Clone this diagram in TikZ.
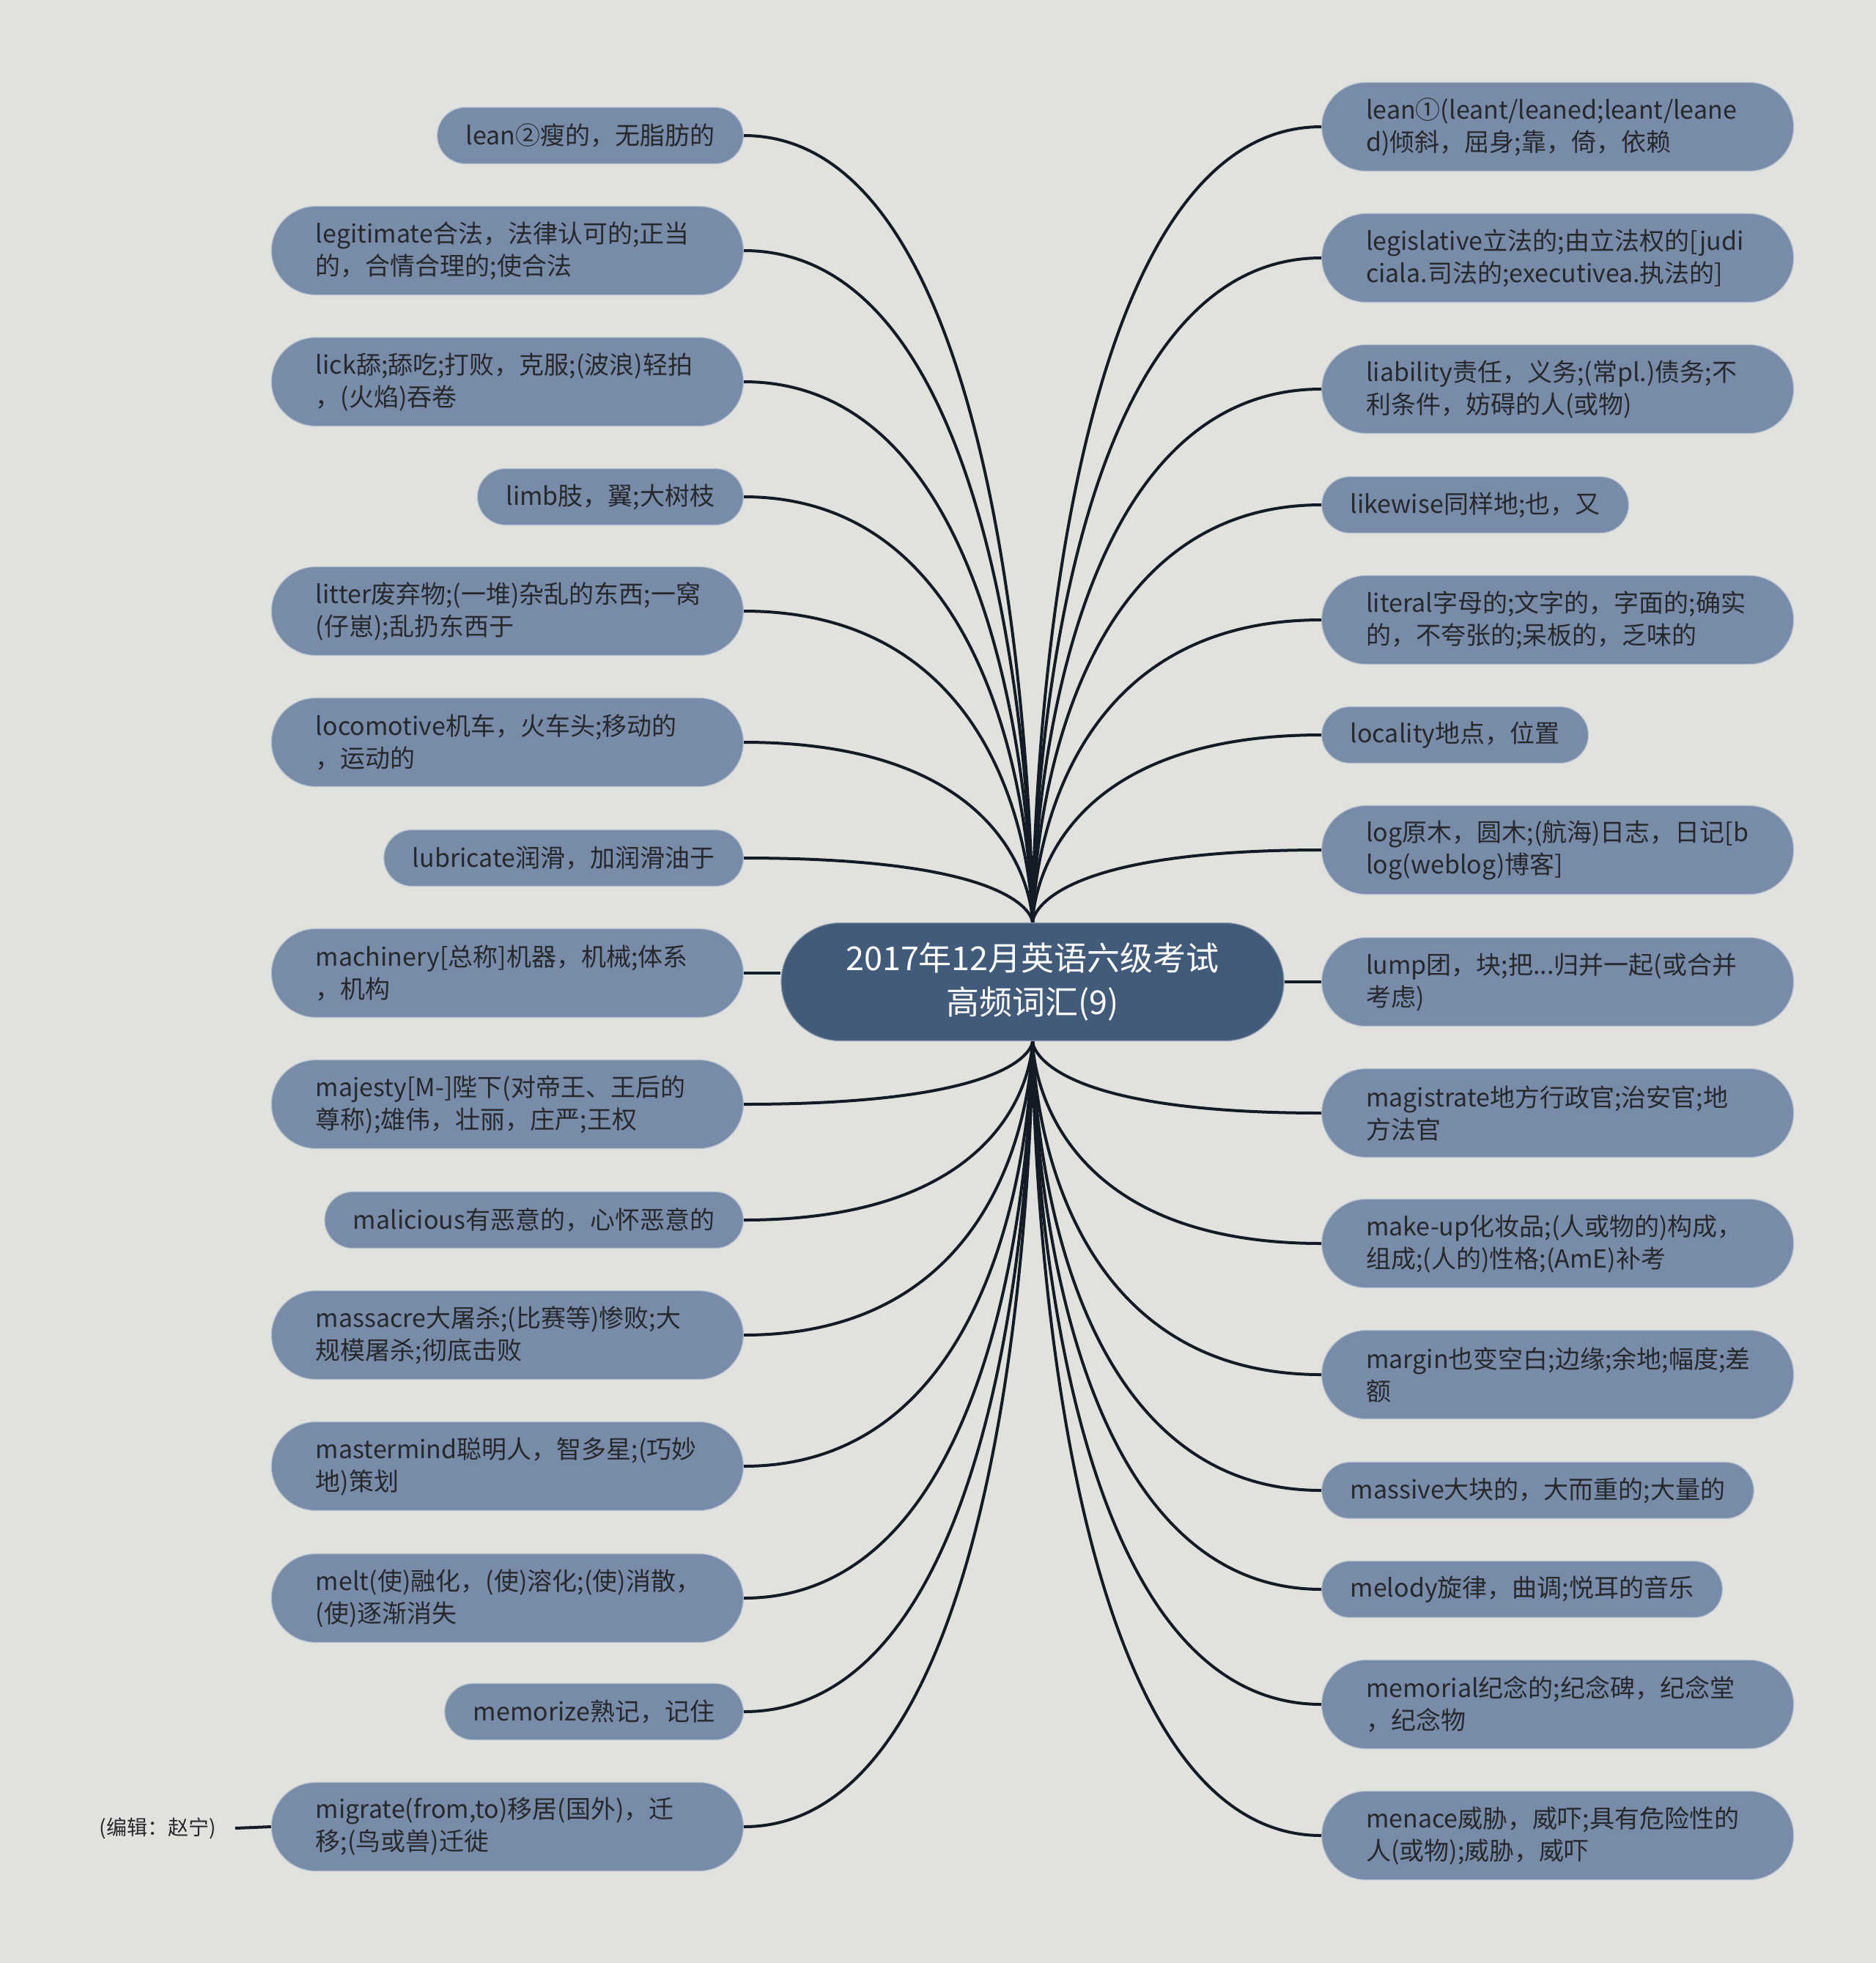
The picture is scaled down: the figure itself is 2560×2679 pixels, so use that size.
\documentclass[tikz,border=0pt]{standalone}
\usepackage{fontspec}
\setmainfont{Noto Sans CJK SC}

\definecolor{bgcol}{HTML}{E1E2DE}
\definecolor{leafcol}{HTML}{788CA9}
\definecolor{rootcol}{HTML}{435B7B}
\definecolor{inkcol}{HTML}{26282C}
\definecolor{linkcol}{HTML}{131B27}

\tikzset{
  leaf/.style={rectangle, rounded corners=19.25pt, fill=leafcol, draw=leafcol!55!white, line width=0.6pt,
    text=inkcol, font=\fontsize{17}{22}\selectfont, inner xsep=19.5pt, inner ysep=2pt,
    minimum height=38.5pt},
  twoline/.style={leaf, rounded corners=30.25pt, inner xsep=30.25pt, text width=261.5pt,
    align=left, minimum height=60.5pt},
  hub/.style={rectangle, rounded corners=40.25pt, fill=rootcol, draw=rootcol!60!white, line width=0.6pt,
    text=white, font=\fontsize{22.5}{30}\selectfont, align=center,
    minimum width=343pt, minimum height=80.5pt},
  note/.style={text=inkcol, font=\fontsize{14}{16}\selectfont, inner xsep=13pt},
  link/.style={draw=linkcol, line width=2pt},
  swoop/.style={to path={.. controls (\tikztotarget|-\tikztostart) and (\tikztotarget) .. (\tikztotarget)}}
}

\begin{document}
\begin{tikzpicture}[x=0.5pt, y=0.5pt]
    \fill[bgcol] (0,0) rectangle (2560,-2679);
    \useasboundingbox (0,0) rectangle (2560,-2679);

    \node[hub] (root) at (1409,-1340) {2017年12月英语六级考试\\高频词汇(9)};

    \node[leaf, anchor=east] (l1) at (1015,-185) {lean②瘦的，无脂肪的};
    \node[twoline, anchor=east] (l2) at (1015,-342) {legitimate合法，法律认可的;正当\\的，合情合理的;使合法};
    \node[twoline, anchor=east] (l3) at (1015,-521) {lick舔;舔吃;打败，克服;(波浪)轻拍\\，(火焰)吞卷};
    \node[leaf, anchor=east] (l4) at (1015,-678) {limb肢，翼;大树枝};
    \node[twoline, anchor=east] (l5) at (1015,-834) {litter废弃物;(一堆)杂乱的东西;一窝\\(仔崽);乱扔东西于};
    \node[twoline, anchor=east] (l6) at (1015,-1013) {locomotive机车，火车头;移动的\\，运动的};
    \node[leaf, anchor=east] (l7) at (1015,-1171) {lubricate润滑，加润滑油于};
    \node[twoline, anchor=east] (l8) at (1015,-1328) {machinery[总称]机器，机械;体系\\，机构};
    \node[twoline, anchor=east] (l9) at (1015,-1507) {majesty[M-]陛下(对帝王、王后的\\尊称);雄伟，壮丽，庄严;王权};
    \node[leaf, anchor=east] (l10) at (1015,-1665) {malicious有恶意的，心怀恶意的};
    \node[twoline, anchor=east] (l11) at (1015,-1822) {massacre大屠杀;(比赛等)惨败;大\\规模屠杀;彻底击败};
    \node[twoline, anchor=east] (l12) at (1015,-2001) {mastermind聪明人，智多星;(巧妙\\地)策划};
    \node[twoline, anchor=east] (l13) at (1015,-2181) {melt(使)融化，(使)溶化;(使)消散，\\(使)逐渐消失};
    \node[leaf, anchor=east] (l14) at (1015,-2336) {memorize熟记，记住};
    \node[twoline, anchor=east] (l15) at (1015,-2493) {migrate(from,to)移居(国外)，迁\\移;(鸟或兽)迁徙};

    \node[twoline, anchor=west] (r1) at (1803,-173) {lean①(leant/leaned;leant/leane\\d)倾斜，屈身;靠，倚，依赖};
    \node[twoline, anchor=west] (r2) at (1803,-352) {legislative立法的;由立法权的[judi\\ciala.司法的;executivea.执法的]};
    \node[twoline, anchor=west] (r3) at (1803,-531) {liability责任，义务;(常pl.)债务;不\\利条件，妨碍的人(或物)};
    \node[leaf, anchor=west] (r4) at (1803,-689) {likewise同样地;也，又};
    \node[twoline, anchor=west] (r5) at (1803,-846) {literal字母的;文字的，字面的;确实\\的，不夸张的;呆板的，乏味的};
    \node[leaf, anchor=west] (r6) at (1803,-1003) {locality地点，位置};
    \node[twoline, anchor=west] (r7) at (1803,-1160) {log原木，圆木;(航海)日志，日记[b\\log(weblog)博客]};
    \node[twoline, anchor=west] (r8) at (1803,-1340) {lump团，块;把...归并一起(或合并\\考虑)};
    \node[twoline, anchor=west] (r9) at (1803,-1519) {magistrate地方行政官;治安官;地\\方法官};
    \node[twoline, anchor=west] (r10) at (1803,-1697) {make-up化妆品;(人或物的)构成，\\组成;(人的)性格;(AmE)补考};
    \node[twoline, anchor=west] (r11) at (1803,-1876) {margin也变空白;边缘;余地;幅度;差\\额};
    \node[leaf, anchor=west] (r12) at (1803,-2034) {massive大块的，大而重的;大量的};
    \node[leaf, anchor=west] (r13) at (1803,-2169) {melody旋律，曲调;悦耳的音乐};
    \node[twoline, anchor=west] (r14) at (1803,-2326) {memorial纪念的;纪念碑，纪念堂\\，纪念物};
    \node[twoline, anchor=west] (r15) at (1803,-2505) {menace威胁，威吓;具有危险性的\\人(或物);威胁，威吓};

    \node[note, anchor=east] (note) at (321,-2495) {(编辑：赵宁)};

    \draw[link] (l1.east) to[swoop] (root.north);
    \draw[link] (l2.east) to[swoop] (root.north);
    \draw[link] (l3.east) to[swoop] (root.north);
    \draw[link] (l4.east) to[swoop] (root.north);
    \draw[link] (l5.east) to[swoop] (root.north);
    \draw[link] (l6.east) to[swoop] (root.north);
    \draw[link] (l7.east) to[swoop] (root.north);
    \draw[link] (l8.east) -- (l8.east -| root.west);
    \draw[link] (l9.east) to[swoop] (root.south);
    \draw[link] (l10.east) to[swoop] (root.south);
    \draw[link] (l11.east) to[swoop] (root.south);
    \draw[link] (l12.east) to[swoop] (root.south);
    \draw[link] (l13.east) to[swoop] (root.south);
    \draw[link] (l14.east) to[swoop] (root.south);
    \draw[link] (l15.east) to[swoop] (root.south);

    \draw[link] (r1.west) to[swoop] (root.north);
    \draw[link] (r2.west) to[swoop] (root.north);
    \draw[link] (r3.west) to[swoop] (root.north);
    \draw[link] (r4.west) to[swoop] (root.north);
    \draw[link] (r5.west) to[swoop] (root.north);
    \draw[link] (r6.west) to[swoop] (root.north);
    \draw[link] (r7.west) to[swoop] (root.north);
    \draw[link] (r8.west) -- (r8.west -| root.east);
    \draw[link] (r9.west) to[swoop] (root.south);
    \draw[link] (r10.west) to[swoop] (root.south);
    \draw[link] (r11.west) to[swoop] (root.south);
    \draw[link] (r12.west) to[swoop] (root.south);
    \draw[link] (r13.west) to[swoop] (root.south);
    \draw[link] (r14.west) to[swoop] (root.south);
    \draw[link] (r15.west) to[swoop] (root.south);

    \draw[link] (l15.west) -- (note.east);
\end{tikzpicture}
\end{document}
